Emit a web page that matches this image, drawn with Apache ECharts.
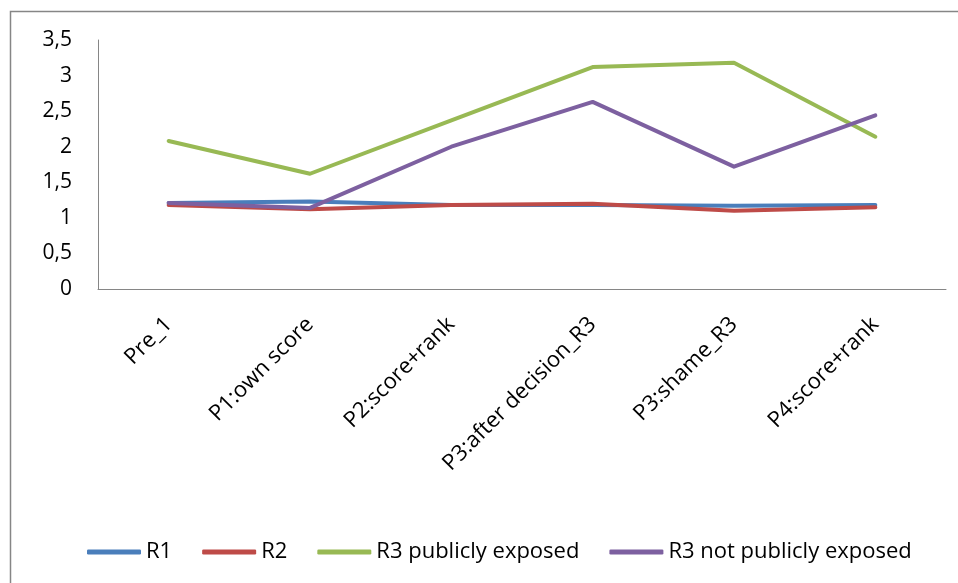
<!DOCTYPE html>
<html>
<head>
<meta charset="utf-8">
<script src="https://cdn.jsdelivr.net/npm/echarts@6/dist/echarts.min.js"></script>
<style>
  html, body { margin: 0; padding: 0; background: #fff; }
  #chart { width: 958px; height: 583px; }
</style>
</head>
<body>
<div id="chart"></div>
<script>
// Phase labels along the x axis
const categories = ['Pre_1', 'P1:own score', 'P2:score+rank', 'P3:after decision_R3', 'P3:shame_R3', 'P4:score+rank'];

// Mean scores per group
const r1 = [1.21, 1.23, 1.18, 1.18, 1.17, 1.18];
const r2 = [1.18, 1.12, 1.18, 1.20, 1.10, 1.15];
const r3Public = [2.08, 1.62, 2.37, 3.12, 3.18, 2.14];
const r3NotPublic = [1.21, 1.14, 2.00, 2.63, 1.72, 2.44];

const seriesNames = ['R1', 'R2', 'R3 publicly exposed', 'R3 not publicly exposed'];
const seriesData = [r1, r2, r3Public, r3NotPublic];
const seriesColors = ['#4A7EBB', '#BE4B48', '#98B954', '#7D60A0'];

const FONT = '"Open Sans", "Liberation Sans", sans-serif';

const chart = echarts.init(document.getElementById('chart'), null, { renderer: 'canvas' });

chart.setOption({
  animation: false,
  backgroundColor: '#ffffff',
  textStyle: { fontFamily: FONT },
  graphic: [{
    type: 'rect',
    shape: { x: 10.5, y: 11.5, width: 980, height: 600 },
    style: { fill: 'none', stroke: '#868686', lineWidth: 1.5 },
    silent: true
  }],
  grid: { left: 98, right: 12, top: 40, bottom: 294 },
  legend: {
    left: 82,
    top: 536,
    icon: 'roundRect',
    itemWidth: 54,
    itemHeight: 5,
    itemGap: 30,
    textStyle: { fontFamily: FONT, fontSize: 22, color: '#000' },
    data: seriesNames
  },
  xAxis: {
    type: 'category',
    data: categories,
    boundaryGap: true,
    axisLine: { lineStyle: { color: '#868686', width: 1 } },
    axisTick: { show: false },
    axisLabel: {
      rotate: 45,
      margin: 32,
      interval: 0,
      color: '#000',
      fontFamily: FONT,
      fontSize: 22
    }
  },
  yAxis: {
    type: 'value',
    min: 0,
    max: 3.5,
    interval: 0.5,
    axisLine: { show: true, lineStyle: { color: '#868686', width: 1 } },
    axisTick: { show: false },
    splitLine: { show: false },
    axisLabel: {
      margin: 26,
      color: '#000',
      fontFamily: FONT,
      fontSize: 21,
      formatter: v => String(v).replace('.', ',')
    }
  },
  series: seriesNames.map((name, i) => ({
    name,
    type: 'line',
    data: seriesData[i],
    symbol: 'none',
    color: seriesColors[i],
    lineStyle: { width: 4, color: seriesColors[i], cap: 'round', join: 'round' }
  }))
});
</script>
</body>
</html>
